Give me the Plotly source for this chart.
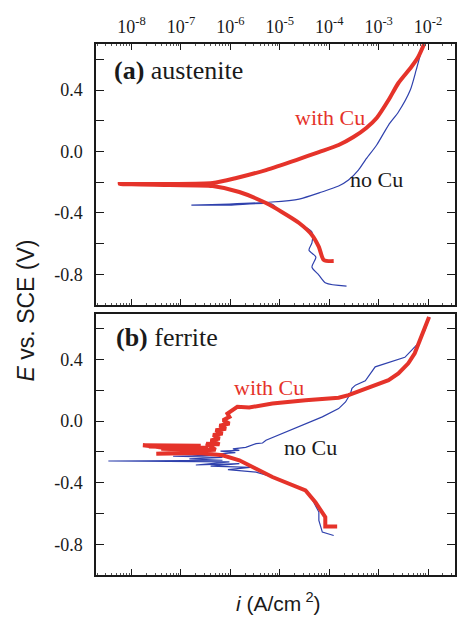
import plotly.graph_objects as go

# ---------------- data (log10 of current density in A/cm^2, potential E in V vs SCE)
# (a) austenite
aus_cu_logi = [-3.91, -4.11, -4.21, -4.35, -4.61, -4.96, -5.28, -5.82, -6.36, -7.23, -8.24, -7.23,
               -6.36, -5.88, -5.28, -4.67, -4.21, -3.81, -3.51, -3.25, -3.04, -2.80, -2.60, -2.34,
               -2.20, -2.08]
aus_cu_E = [-0.714, -0.707, -0.622, -0.544, -0.466, -0.394, -0.336, -0.264, -0.225, -0.219, -0.212,
            -0.212, -0.206, -0.173, -0.121, -0.056, -0.004, 0.042, 0.094, 0.153, 0.218, 0.335,
            0.446, 0.550, 0.615, 0.700]

aus_nocu_logi = [-3.65, -4.07, -4.21, -4.35, -4.27, -4.41, -4.35, -4.35, -4.55, -4.75, -5.02, -5.16,
                 -6.02, -6.79, -6.02, -5.16, -4.61, -4.15, -3.81, -3.61, -3.41, -3.27, -3.04, -2.80,
                 -2.60, -2.36, -2.24, -2.10]
aus_nocu_E = [-0.877, -0.857, -0.805, -0.753, -0.688, -0.642, -0.596, -0.525, -0.479, -0.434, -0.381,
              -0.342, -0.349, -0.349, -0.342, -0.329, -0.310, -0.264, -0.225, -0.186, -0.121, -0.056,
              0.042, 0.172, 0.257, 0.400, 0.531, 0.700]

# (b) ferrite
fer_cu_logi = [-3.84, -4.08, -4.08, -4.14, -4.28, -4.48, -4.81, -5.15, -5.48, -5.82, -6.16, -6.63,
               -7.50, -6.63, -7.77, -6.60, -7.65, -6.45, -7.40, -6.35, -7.00, -6.30, -6.49,
               -6.22, -6.40, -6.22, -6.35, -6.16, -6.30, -6.09, -6.22, -6.02, -6.15, -6.02, -6.06,
               -5.89, -5.86, -5.62, -5.15, -4.48, -3.81, -3.61, -3.14, -2.80, -2.60, -2.40, -2.27,
               -2.13, -2.06, -1.98]
fer_cu_E = [-0.684, -0.684, -0.624, -0.591, -0.526, -0.450, -0.406, -0.363, -0.309, -0.254, -0.222,
            -0.207, -0.211, -0.200, -0.157, -0.160, -0.165, -0.172, -0.180, -0.188, -0.195, -0.185,
            -0.146, -0.150, -0.125, -0.113, -0.090, -0.080, -0.059, -0.050, -0.030, -0.015, 0.006,
            0.028, 0.050, 0.082, 0.093, 0.089, 0.115, 0.136, 0.152, 0.169, 0.223, 0.267, 0.310,
            0.376, 0.441, 0.549, 0.614, 0.677]

fer_nocu_logi = [-3.91, -4.14, -4.21, -4.21, -4.28, -4.35, -4.48, -4.81, -5.15, -5.48, -6.05, -5.60,
                 -6.40, -5.82, -6.70, -6.02, -8.47, -6.16, -6.83, -6.16, -7.16, -6.29, -6.90, -6.16,
                 -5.90, -6.20, -5.82, -5.95, -5.69, -5.48, -5.35, -5.28, -5.08, -4.81, -4.48, -4.14,
                 -3.81, -3.67, -3.57, -3.54, -3.47, -3.27, -3.07, -2.80, -2.47, -2.20, -2.06, -2.00,
                 -1.96]
fer_nocu_E = [-0.743, -0.721, -0.645, -0.591, -0.548, -0.504, -0.450, -0.406, -0.363, -0.331, -0.315,
              -0.300, -0.292, -0.276, -0.285, -0.265, -0.259, -0.254, -0.245, -0.236, -0.228, -0.222,
              -0.215, -0.211, -0.205, -0.195, -0.190, -0.180, -0.170, -0.146, -0.142, -0.124, -0.098,
              -0.059, -0.015, 0.028, 0.082, 0.125, 0.180, 0.213, 0.234, 0.262, 0.353, 0.379, 0.415,
              0.506, 0.593, 0.658, 0.677]

x_tick_exps = [-8, -7, -6, -5, -4, -3, -2]
y_tick_vals = [-0.8, -0.4, 0.0, 0.4]
y_tick_text = ["-0.8", "-0.4", "0.0", "0.4"]

RED = "#e5332a"
BLUE = "#2f41ad"

def to_i(logs):
    return [10 ** v for v in logs]

fig = go.Figure()
fig.add_trace(go.Scatter(x=to_i(aus_nocu_logi), y=aus_nocu_E, mode="lines",
                         line=dict(color=BLUE, width=1.2, shape="spline", smoothing=0.7),
                         xaxis="x", yaxis="y"))
fig.add_trace(go.Scatter(x=to_i(aus_cu_logi), y=aus_cu_E, mode="lines",
                         line=dict(color=RED, width=4, shape="spline", smoothing=0.7),
                         xaxis="x", yaxis="y"))
fig.add_trace(go.Scatter(x=to_i(fer_nocu_logi), y=fer_nocu_E, mode="lines",
                         line=dict(color=BLUE, width=1.2), xaxis="x2", yaxis="y2"))
fig.add_trace(go.Scatter(x=to_i(fer_cu_logi), y=fer_cu_E, mode="lines",
                         line=dict(color=RED, width=4), xaxis="x2", yaxis="y2"))

W, H = 457, 617
ML, MR, MT, MB = 96, 0, 44, 42
PW, PH = W - ML - MR, H - MT - MB

def px(xp):
    return (xp - ML) / PW

def py(yp):
    return (H - MB - yp) / PH

axis_line = dict(showline=True, linecolor="#1a1a1a", linewidth=1.5, showgrid=False, zeroline=False)
serif = dict(family="Liberation Serif", size=18, color="#1a1a1a")

xcommon = dict(type="log", range=[-8.72, -1.455],
               tickvals=[10 ** e for e in x_tick_exps],
               ticktext=["10<sup>%d</sup>" % e for e in x_tick_exps],
               ticks="inside", ticklen=6, tickwidth=1.3, tickcolor="#1a1a1a",
               minor=dict(ticks="inside", ticklen=2, tickcolor="#555", dtick="D1"),
               tickfont=serif, **axis_line)
ycommon = dict(range=[-1.0, 0.7], tickvals=y_tick_vals, ticktext=y_tick_text,
               ticks="inside", ticklen=8, tickwidth=1.3, tickcolor="#1a1a1a",
               minor=dict(ticks="inside", ticklen=8, tick0=0, dtick=0.2, tickcolor="#1a1a1a", tickwidth=1.3),
               tickfont=serif, ticklabelstandoff=8, mirror="ticks", **axis_line)

top_dom = [py(305), 1.0]
bot_dom = [0.0, py(313.5)]

fig.update_layout(
    width=W, height=H, margin=dict(l=ML, r=MR, t=MT, b=MB),
    paper_bgcolor="white", plot_bgcolor="white", showlegend=False,
    xaxis=dict(domain=[0, 1], anchor="y", side="top", mirror="ticks", showticklabels=True,
               ticklabelstandoff=2, **xcommon),
    yaxis=dict(domain=top_dom, anchor="x", **ycommon),
    xaxis2=dict(domain=[0, 1], anchor="y2", side="bottom", mirror=True, showticklabels=False, **xcommon),
    yaxis2=dict(domain=bot_dom, anchor="x2", **ycommon),
)

def ann(text, xp, yp, size, color="#1a1a1a", family="Liberation Serif", xanchor="center", angle=0):
    fig.add_annotation(text=text, x=px(xp), y=py(yp), xref="paper", yref="paper",
                       xanchor=xanchor, yanchor="middle", showarrow=False, textangle=angle,
                       font=dict(family=family, size=size, color=color))

ann("<b>(a)</b> austenite", 112, 71, 26, xanchor="left")
ann("<b>(b)</b> ferrite", 114, 337, 26, xanchor="left")
ann("with Cu", 331, 117, 22, color=RED)
ann("no Cu", 378, 179, 22)
ann("with Cu", 270, 387, 22, color=RED)
ann("no Cu", 312, 447, 22)
ann("<i>E</i> vs. SCE (V)", 26, 310, 23, family="Liberation Sans", angle=-90)
ann("<i>i</i> (A/cm<sup> 2</sup>)", 280, 602, 21, family="Liberation Sans")

fig.write_html("out.html")
